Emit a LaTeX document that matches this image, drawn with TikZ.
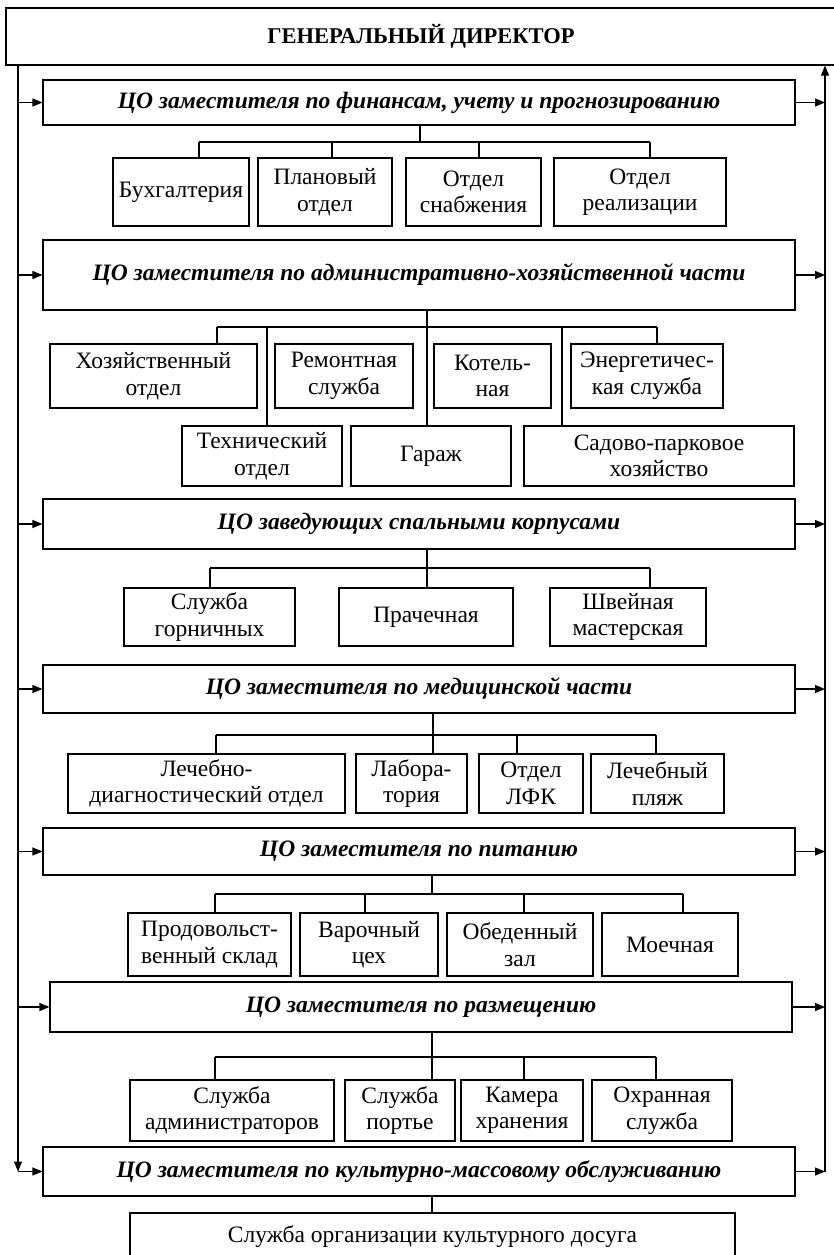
\documentclass[tikz,border=0pt]{standalone}
\usepackage{fontspec}
\setmainfont{Liberation Serif}
\usetikzlibrary{arrows.meta}
% \bx[style]{name}{x1}{y1}{x2}{y2}{text}: box given by its corners
\newcommand\bx[7][]{\node[unitbox,#1,minimum width={(#5-#3)*1pt},minimum height={(#6-#4)*1pt}] (#2) at ({(#3+#5)/2},{(#4+#6)/2}) {#7};}
\tikzset{
  unitbox/.style={draw, line width=1.1pt, align=center, inner sep=0pt, fill=white,
    font=\fontsize{23.5}{26.5}\selectfont},
  cobox/.style={font=\fontsize{23.5}{26}\selectfont\bfseries\itshape},
  headbox/.style={font=\fontsize{22.5}{26}\selectfont\bfseries},
  wire/.style={line width=1.1pt},
  arr/.style={wire, -{Triangle[length=10pt,width=8pt]}}
}
\begin{document}
\begin{tikzpicture}[x=1pt,y=-1pt]
\useasboundingbox (0,0) rectangle (833,1255);

% head
\bx[headbox]{gd}{6}{8}{836}{65}{ГЕНЕРАЛЬНЫЙ ДИРЕКТОР}

% responsibility centres
\bx[cobox]{c1}{43}{80}{795}{125}{ЦО заместителя по финансам, учету и прогнозированию}
\bx[cobox]{c2}{43}{240}{795}{310}{ЦО заместителя по административно-хозяйственной части}
\bx[cobox]{c3}{43}{499}{795}{549}{ЦО заведующих спальными корпусами}
\bx[cobox]{c4}{43}{665}{795}{713}{ЦО заместителя по медицинской части}
\bx[cobox]{c5}{43}{828}{795}{875}{ЦО заместителя по питанию}
\bx[cobox]{c6}{50}{982}{792}{1032}{ЦО заместителя по размещению}
\bx[cobox]{c7}{43}{1147}{795}{1196}{ЦО заместителя по культурно-массовому обслуживанию}

% rails
\coordinate (L0) at (18,65);
\coordinate (R0) at (825,65);
\draw[arr] (gd.south -| L0) -- (c7.west -| L0);
\draw[arr] (c7.west -| L0) -- (c7.west);
\draw[arr] (c7.east -| R0) -- (gd.south -| R0);
\foreach \c in {c1,c2,c3,c4,c5,c6,c7}{
  \draw[arr] (\c.east) -- (\c.east -| R0);
}
\foreach \c in {c1,c2,c3,c4,c5,c6}{
  \draw[arr] (\c.west -| L0) -- (\c.west);
}

% group 1
\bx{b11}{113}{158}{249}{226}{Бухгалтерия}
\bx{b12}{258}{158}{392}{226}{Плановый\\отдел}
\bx{b13}{406}{158}{541}{226}{Отдел\\снабжения}
\bx{b14}{554}{158}{726}{226}{Отдел\\реализации}
\draw[wire] (c1.south -| 420,0) -- (420,142);
\draw[wire] (199,142) -- (650,142);
\draw[wire] (199,142) -- (b11.north -| 199,0);
\draw[wire] (332,142) -- (b12.north -| 332,0);
\draw[wire] (479,142) -- (b13.north -| 479,0);
\draw[wire] (650,142) -- (b14.north -| 650,0);

% group 2
\bx{b21}{50}{344}{257}{408}{Хозяйственный\\отдел}
\bx{b22}{275}{344}{413}{408}{Ремонтная\\служба}
\bx{b23}{434}{344}{551}{408}{Котель-\\ная}
\bx{b24}{571}{344}{723}{408}{Энергетичес-\\кая служба}
\bx{b25}{182}{426}{342}{486}{Технический\\отдел}
\bx{b26}{351}{426}{511}{486}{Гараж}
\bx{b27}{524}{426}{794}{486}{Садово-парковое\\хозяйство}
\draw[wire] (c2.south -| 427,0) -- (b26.north -| 427,0);
\draw[wire] (217,327) -- (657,327);
\draw[wire] (217,327) -- (b21.north -| 217,0);
\draw[wire] (267,327) -- (b25.north -| 267,0);
\draw[wire] (562,327) -- (b27.north -| 562,0);
\draw[wire] (657,327) -- (b24.north -| 657,0);

% group 3
\bx{b31}{124}{588}{295}{646}{Служба\\горничных}
\bx{b32}{339}{588}{513}{646}{Прачечная}
\bx{b33}{550}{588}{706}{646}{Швейная\\мастерская}
\draw[wire] (c3.south -| 427,0) -- (b32.north -| 427,0);
\draw[wire] (210,568) -- (650,568);
\draw[wire] (210,568) -- (b31.north -| 210,0);
\draw[wire] (650,568) -- (b33.north -| 650,0);

% group 4
\bx{b41}{68}{754}{345}{813}{Лечебно-\\диагностический отдел}
\bx{b42}{356}{754}{467}{813}{Лабора-\\тория}
\bx{b43}{479}{754}{583}{813}{Отдел\\ЛФК}
\bx{b44}{591}{754}{724}{813}{Лечебный\\пляж}
\draw[wire] (c4.south -| 433,0) -- (b42.north -| 433,0);
\draw[wire] (216,735) -- (656,735);
\draw[wire] (216,735) -- (b41.north -| 216,0);
\draw[wire] (517,735) -- (b43.north -| 517,0);
\draw[wire] (656,735) -- (b44.north -| 656,0);

% group 5
\bx{b51}{128}{913}{291}{976}{Продовольст-\\венный склад}
\bx{b52}{300}{913}{438}{976}{Варочный\\цех}
\bx{b53}{447}{913}{593}{976}{Обеденный\\зал}
\bx{b54}{602}{913}{738}{976}{Моечная}
\draw[wire] (c5.south -| 432,0) -- (432,894);
\draw[wire] (215,894) -- (683,894);
\draw[wire] (215,894) -- (b51.north -| 215,0);
\draw[wire] (365,894) -- (b52.north -| 365,0);
\draw[wire] (524,894) -- (b53.north -| 524,0);
\draw[wire] (683,894) -- (b54.north -| 683,0);

% group 6
\bx{b61}{130}{1080}{334}{1141}{Служба\\администраторов}
\bx{b62}{345}{1080}{455}{1141}{Служба\\портье}
\bx{b63}{461}{1080}{583}{1141}{Камера\\хранения}
\bx{b64}{592}{1080}{732}{1141}{Охранная\\служба}
\draw[wire] (c6.south -| 432,0) -- (b62.north -| 432,0);
\draw[wire] (215,1057) -- (656,1057);
\draw[wire] (215,1057) -- (b61.north -| 215,0);
\draw[wire] (524,1057) -- (b63.north -| 524,0);
\draw[wire] (656,1057) -- (b64.north -| 656,0);

% group 7
\bx{b71}{130}{1213}{735}{1268}{\raisebox{12pt}{Служба организации культурного досуга}}
\draw[wire] (c7.south -| 432,0) -- (b71.north -| 432,0);
\end{tikzpicture}
\end{document}
